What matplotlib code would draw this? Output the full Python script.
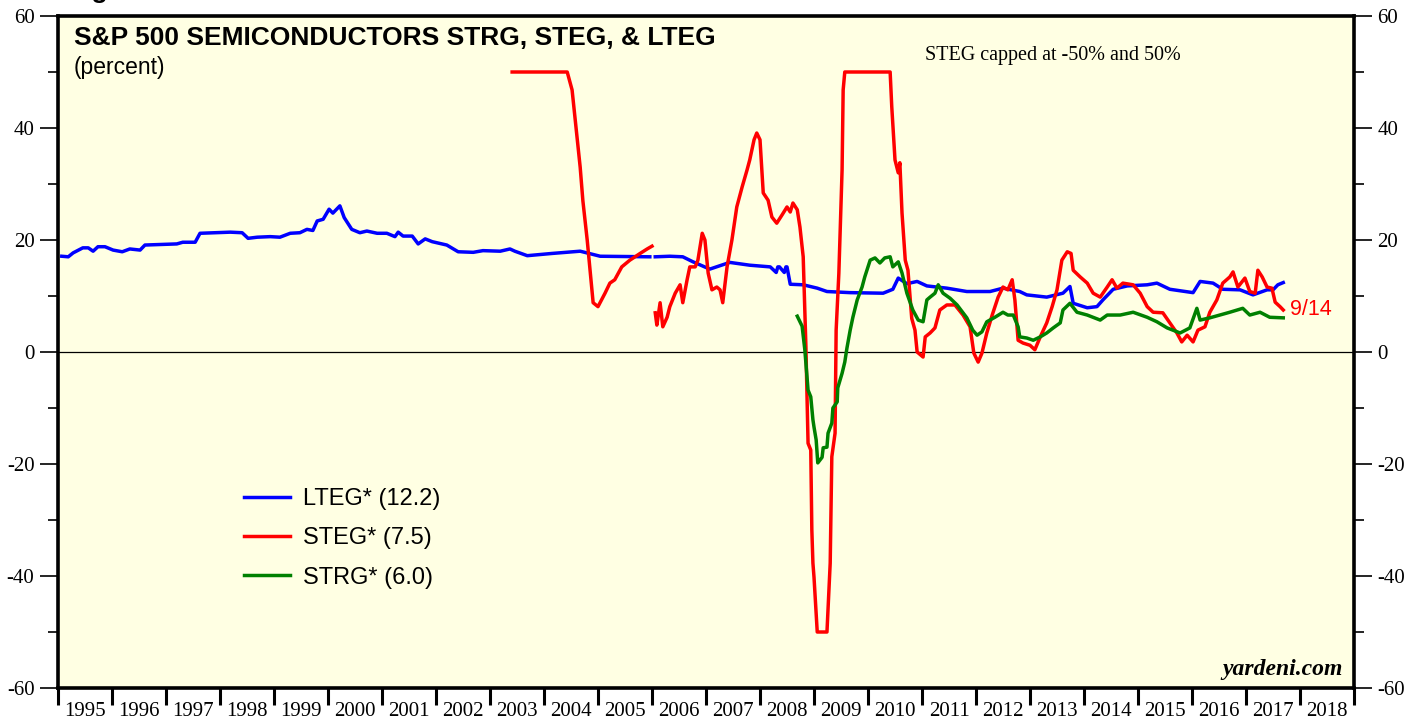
import numpy as np
import matplotlib
matplotlib.use('Agg')
import matplotlib.pyplot as plt

plt.rcParams['axes.unicode_minus'] = False

# LTEG (azul), duas partes com uma pequena falha no inicio de 2006
lteg_anos_a = [1995.07, 1995.19, 1995.28, 1995.46, 1995.56, 1995.65, 1995.74, 1995.87, 1996.02, 1996.19,
               1996.33, 1996.52, 1996.61, 1997.20, 1997.31, 1997.54, 1997.63, 1998.19, 1998.41, 1998.52,
               1998.69, 1998.93, 1999.11, 1999.30, 1999.48, 1999.61, 1999.72, 1999.80, 1999.91, 2000.02,
               2000.09, 2000.22, 2000.30, 2000.44, 2000.59, 2000.72, 2000.91, 2001.09, 2001.24, 2001.30,
               2001.39, 2001.56, 2001.67, 2001.80, 2001.93, 2002.20, 2002.41, 2002.69, 2002.87, 2003.19,
               2003.37, 2003.46, 2003.69, 2004.15, 2004.67, 2005.04, 2005.96]
lteg_a = [17.1, 17.0, 17.7, 18.6, 18.6, 18.0, 18.8, 18.8, 18.2, 17.9,
          18.4, 18.2, 19.1, 19.3, 19.6, 19.6, 21.2, 21.4, 21.3, 20.3,
          20.5, 20.6, 20.5, 21.2, 21.3, 21.9, 21.7, 23.4, 23.7, 25.5,
          24.8, 26.1, 24.0, 21.9, 21.3, 21.6, 21.2, 21.2, 20.6, 21.4,
          20.7, 20.7, 19.3, 20.2, 19.7, 19.1, 17.9, 17.8, 18.1, 18.0,
          18.4, 18.0, 17.2, 17.6, 18.0, 17.1, 17.0]
lteg_anos_b = [2006.06, 2006.33, 2006.57, 2006.76, 2007.07, 2007.44, 2007.81, 2008.19, 2008.30, 2008.33,
               2008.36, 2008.45, 2008.48, 2008.50, 2008.56, 2008.80, 2009.06, 2009.24, 2009.67, 2010.28,
               2010.46, 2010.56, 2010.72, 2010.91, 2011.09, 2011.46, 2011.83, 2012.26, 2012.50, 2012.81,
               2012.94, 2013.31, 2013.61, 2013.74, 2013.80, 2014.06, 2014.24, 2014.35, 2014.54, 2014.80,
               2015.17, 2015.35, 2015.59, 2016.02, 2016.15, 2016.39, 2016.57, 2016.89, 2017.13, 2017.39,
               2017.50, 2017.59, 2017.69]
lteg_b = [17.0, 17.1, 17.0, 16.1, 14.8, 16.0, 15.5, 15.2, 14.2, 15.2,
          15.2, 14.2, 15.2, 15.2, 12.1, 12.0, 11.4, 10.8, 10.6, 10.5,
          11.2, 13.2, 12.2, 12.6, 11.8, 11.4, 10.8, 10.8, 11.4, 10.8,
          10.2, 9.8, 10.5, 11.7, 8.7, 7.9, 8.1, 9.3, 11.2, 11.8,
          12.0, 12.3, 11.2, 10.6, 12.6, 12.3, 11.2, 11.1, 10.2, 11.1,
          11.1, 12.0, 12.4]

# STEG (vermelho), limitado entre -50 e 50
steg_anos_a = [2003.41, 2004.43, 2004.52, 2004.67, 2004.72, 2004.80, 2004.91, 2005.00, 2005.13, 2005.22,
               2005.31, 2005.44, 2005.59, 2005.78, 2005.91, 2006.00]
steg_a = [50, 50, 46.8, 33.0, 27.0, 20.0, 8.8, 8.1, 10.5, 12.3,
          12.9, 15.2, 16.4, 17.6, 18.4, 18.9]
steg_anos_b = [2006.06, 2006.09, 2006.15, 2006.20, 2006.28, 2006.33, 2006.43, 2006.52, 2006.57, 2006.65,
               2006.70, 2006.80, 2006.85, 2006.93, 2006.98, 2007.04, 2007.11, 2007.20, 2007.26, 2007.31,
               2007.39, 2007.48, 2007.57, 2007.67, 2007.76, 2007.81, 2007.89, 2007.94, 2008.00, 2008.06,
               2008.15, 2008.22, 2008.31, 2008.41, 2008.50, 2008.56, 2008.61, 2008.69, 2008.74, 2008.80,
               2008.85, 2008.87, 2008.89, 2008.94, 2008.96, 2008.98, 2009.00, 2009.06, 2009.24, 2009.30,
               2009.33, 2009.39, 2009.41, 2009.46, 2009.52, 2009.54, 2009.57, 2010.41, 2010.44, 2010.50,
               2010.56, 2010.59, 2010.63, 2010.69, 2010.74, 2010.81, 2010.87, 2010.91, 2011.02, 2011.06,
               2011.15, 2011.24, 2011.33, 2011.46, 2011.61, 2011.76, 2011.89, 2011.96, 2012.04, 2012.11,
               2012.20, 2012.30, 2012.41, 2012.50, 2012.59, 2012.67, 2012.72, 2012.78, 2012.87, 2013.00,
               2013.09, 2013.19, 2013.31, 2013.41, 2013.50, 2013.59, 2013.69, 2013.76, 2013.80, 2013.93,
               2014.06, 2014.17, 2014.30, 2014.43, 2014.52, 2014.61, 2014.72, 2014.91, 2015.04, 2015.17,
               2015.28, 2015.46, 2015.59, 2015.72, 2015.81, 2015.91, 2016.02, 2016.11, 2016.24, 2016.33,
               2016.46, 2016.57, 2016.70, 2016.76, 2016.85, 2016.98, 2017.07, 2017.17, 2017.22, 2017.30,
               2017.39, 2017.48, 2017.54, 2017.63, 2017.69]
steg_b = [7.0, 4.8, 8.8, 4.5, 6.2, 8.1, 10.5, 12.0, 8.8, 12.9,
          15.2, 15.2, 16.4, 21.2, 20.0, 14.1, 11.1, 11.6, 11.1, 8.8,
          15.2, 20.0, 25.9, 29.5, 32.5, 34.3, 37.9, 39.1, 37.9, 28.4,
          27.1, 24.1, 23.0, 24.5, 25.9, 25.0, 26.6, 25.4, 22.3, 17.0,
          1.0, -8.0, -16.3, -17.5, -31.8, -37.7, -40.2, -50, -50, -37.7,
          -18.7, -14.5, 3.9, 14.0, 32.5, 46.8, 50, 50, 43.8, 34.3,
          32.0, 33.8, 24.8, 16.4, 14.6, 6.0, 3.9, 0.0, -0.9, 2.7,
          3.4, 4.3, 7.5, 8.4, 8.4, 6.6, 4.5, -0.2, -1.8, -0.2,
          3.4, 6.6, 9.8, 11.6, 11.1, 12.9, 9.3, 2.1, 1.6, 1.2,
          0.4, 2.7, 5.2, 8.1, 11.1, 16.4, 17.9, 17.6, 14.6, 13.4,
          12.3, 10.5, 9.8, 11.6, 12.9, 11.4, 12.3, 12.0, 10.5, 8.1,
          7.1, 7.0, 5.2, 3.4, 1.8, 3.0, 1.8, 3.9, 4.5, 7.1,
          9.3, 12.3, 13.4, 14.3, 11.6, 13.2, 10.8, 10.5, 14.6, 13.4,
          11.6, 11.4, 8.9, 8.1, 7.5]

# STRG (verde)
strg_anos = [2008.69, 2008.78, 2008.83, 2008.89, 2008.94, 2008.98, 2009.00, 2009.04, 2009.07, 2009.15,
             2009.17, 2009.24, 2009.26, 2009.33, 2009.35, 2009.43, 2009.44, 2009.52, 2009.57, 2009.61,
             2009.67, 2009.72, 2009.80, 2009.89, 2009.94, 2010.04, 2010.13, 2010.22, 2010.31, 2010.41,
             2010.46, 2010.56, 2010.63, 2010.72, 2010.83, 2010.93, 2011.02, 2011.09, 2011.15, 2011.24,
             2011.30, 2011.39, 2011.52, 2011.65, 2011.83, 2011.94, 2012.02, 2012.11, 2012.20, 2012.35,
             2012.50, 2012.59, 2012.69, 2012.78, 2012.81, 2012.94, 2013.06, 2013.19, 2013.31, 2013.43,
             2013.56, 2013.61, 2013.74, 2013.87, 2014.06, 2014.30, 2014.43, 2014.67, 2014.91, 2015.17,
             2015.35, 2015.54, 2015.78, 2015.96, 2016.09, 2016.15, 2016.33, 2016.70, 2016.94, 2017.07,
             2017.26, 2017.44, 2017.69]
strg = [6.4, 4.6, 0.4, -6.8, -8.0, -12.1, -13.4, -15.7, -19.8, -18.8,
        -17.1, -17.0, -14.5, -12.7, -10.0, -8.9, -6.4, -3.8, -1.8, 0.7,
        3.9, 6.2, 9.3, 11.6, 13.4, 16.4, 16.8, 15.9, 16.8, 17.0,
        15.2, 16.1, 14.1, 10.5, 7.5, 5.7, 5.4, 9.3, 9.8, 10.5,
        12.0, 10.5, 9.6, 8.4, 6.1, 3.9, 3.0, 3.6, 5.4, 6.2,
        7.1, 6.6, 6.6, 4.5, 2.7, 2.5, 2.1, 2.7, 3.4, 4.3,
        5.2, 7.5, 8.7, 7.1, 6.6, 5.7, 6.6, 6.6, 7.1, 6.2,
        5.4, 4.3, 3.4, 4.3, 7.8, 5.7, 6.1, 7.1, 7.8, 6.6,
        7.1, 6.2, 6.1]

anos_eixo = list(range(1995, 2019))
legendas = ['LTEG* (12.2)', 'STEG* (7.5)', 'STRG* (6.0)']

sans = 'Liberation Sans'
serif = 'Liberation Serif'
fundo = '#FFFFE3'

fig = plt.figure(figsize=(14.21, 7.19), dpi=100)
ax = fig.add_axes([58 / 1421, 1 - 688 / 719, (1354 - 58) / 1421, (688 - 16) / 719])
ax.set_facecolor(fundo)

lw = 2.5
ax.plot(lteg_anos_a, lteg_a, color='#0000FF', lw=lw, solid_joinstyle='round')
ax.plot(lteg_anos_b, lteg_b, color='#0000FF', lw=lw, solid_joinstyle='round')
ax.plot(steg_anos_a, steg_a, color='#FF0000', lw=lw, solid_joinstyle='round')
ax.plot(steg_anos_b, steg_b, color='#FF0000', lw=lw, solid_joinstyle='round')
ax.plot(strg_anos, strg, color='#008000', lw=lw, solid_joinstyle='round')
ax.axhline(0, color='black', lw=0.9, zorder=1)

ax.set_xlim(1995, 2019)
ax.set_ylim(-60, 60)

for s in ax.spines.values():
    s.set_linewidth(2.6)

# eixo y dos dois lados
ax.set_yticks(np.arange(-60, 61, 20))
ax.set_yticks(np.arange(-50, 51, 20), minor=True)
ax.tick_params(axis='y', which='major', direction='out', length=13, width=1.2,
               left=True, right=True, labelleft=True, labelright=True, pad=4)
ax.tick_params(axis='y', which='minor', direction='out', length=7, width=1.2,
               left=True, right=True)
for lab in ax.get_yticklabels():
    lab.set_fontfamily(serif)
    lab.set_fontsize(15)

# eixo x: marcas nos limites dos anos, rotulos no meio
ax.set_xticks(list(range(1995, 2020)))
ax.set_xticklabels([])
ax.set_xticks([a + 0.5 for a in anos_eixo], minor=True)
ax.set_xticklabels([str(a) for a in anos_eixo], minor=True, fontfamily=serif, fontsize=15)
ax.tick_params(axis='x', which='major', direction='out', length=12, width=2.2)
ax.tick_params(axis='x', which='minor', length=0, pad=10)

# titulos e notas
ax.text(0.012, 0.985, 'S&P 500 SEMICONDUCTORS STRG, STEG, & LTEG', transform=ax.transAxes,
        fontfamily=sans, fontweight='bold', fontsize=19, va='top', ha='left')
ax.text(0.012, 0.94, '(percent)', transform=ax.transAxes,
        fontfamily=sans, fontsize=16.5, va='top', ha='left')
ax.text(0.669, 0.955, 'STEG capped at -50% and 50%', transform=ax.transAxes,
        fontfamily=serif, fontsize=14.5, va='top', ha='left')
ax.text(0.9915, 0.012, 'yardeni.com', transform=ax.transAxes,
        fontfamily=serif, fontweight='bold', fontstyle='italic', fontsize=17, va='bottom', ha='right')
ax.text(steg_anos_b[-1] + 0.12, steg_b[-1], '9/14', color='#FF0000',
        fontfamily=sans, fontsize=15.5, va='center', ha='left')

# titulo da figura, cortado no topo como na imagem original
fig.text(68 / 1421, 1 + 2 / 719, 'Figure 3.', fontfamily=sans, fontweight='bold',
         fontsize=19, va='baseline', ha='left')

leg = ax.legend(legendas, loc='upper left', bbox_to_anchor=(0.127, 0.329), frameon=False,
                prop={'family': sans, 'size': 17}, handlelength=1.95, handletextpad=0.55,
                labelspacing=0.73)
cores = ['#0000FF', '#FF0000', '#008000']
for h, c in zip(leg.legend_handles, cores):
    h.set_color(c)
    h.set_linewidth(2.5)

fig.savefig('out.png', dpi=100, facecolor='white')
